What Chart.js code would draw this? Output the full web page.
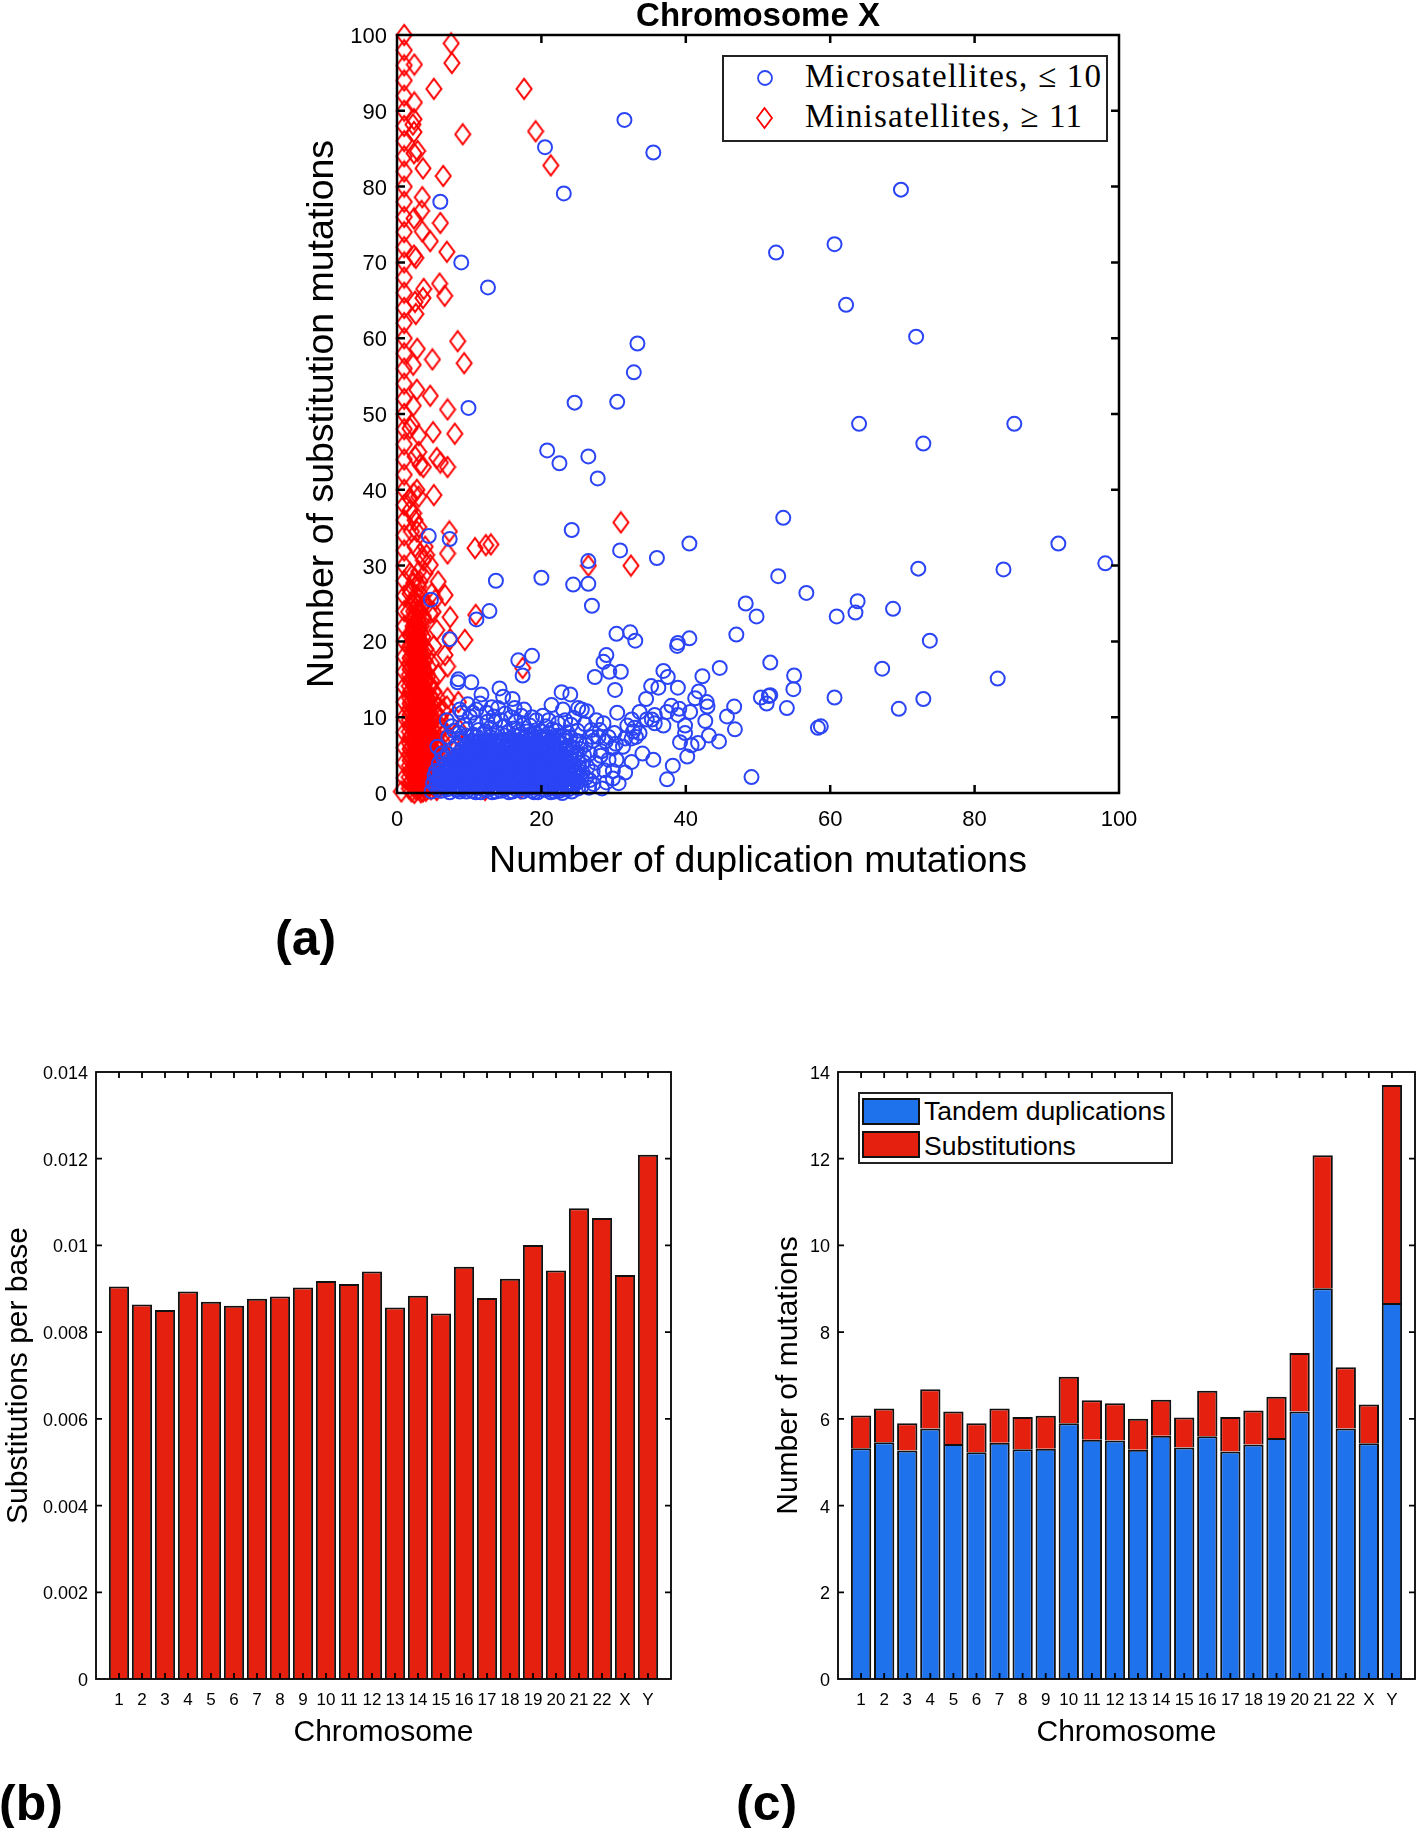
<!DOCTYPE html>
<html>
<head>
<meta charset="utf-8">
<title>Chromosome X mutations</title>
<script src="https://cdn.jsdelivr.net/npm/chart.js@4"></script>
<style>
  html, body { margin:0; padding:0; background:#fff; }
  body { position:relative; width:1416px; height:1828px; overflow:hidden; font-family:"Liberation Sans", Arial, sans-serif; }
  canvas { position:absolute; }
  .tag { position:absolute; font-weight:bold; font-size:50px; line-height:50px; color:#000; }
  .box { position:absolute; border:2px solid #222; background:#fff; box-sizing:border-box; }
  .row { position:absolute; white-space:nowrap; color:#000; }
  .serif { font-family:"Liberation Serif", "DejaVu Serif", serif; font-size:33px; line-height:36px; letter-spacing:1.2px; }
  .sw { position:absolute; border:2px solid #111; box-sizing:border-box; }
  svg { position:absolute; overflow:visible; }
</style>
</head>
<body>
<canvas id="scatter" width="1200" height="900" style="left:0px;top:0px"></canvas>
<canvas id="perBase" width="700" height="730" style="left:0px;top:1040px"></canvas>
<canvas id="stacked" width="680" height="730" style="left:760px;top:1040px"></canvas>

<div class="box" style="left:722px;top:55px;width:386px;height:87px"></div>
<svg style="left:757px;top:78px" width="16" height="16"><circle cx="8" cy="0" r="7" fill="none" stroke="#2b45f5" stroke-width="1.8"/></svg>
<svg style="left:757px;top:118px" width="16" height="20"><polygon points="0,0 7.5,-10 15,0 7.5,10" fill="none" stroke="#f00" stroke-width="1.8"/></svg>
<div class="row serif" style="left:805px;top:58px">Microsatellites, ≤ 10</div>
<div class="row serif" style="left:805px;top:98px">Minisatellites, ≥ 11</div>

<div class="box" style="left:858px;top:1092px;width:315px;height:72px"></div>
<div class="sw" style="left:862px;top:1098px;width:58px;height:27px;background:#1e72ec"></div>
<div class="sw" style="left:862px;top:1131px;width:58px;height:27px;background:#e6200f"></div>
<div class="row" style="left:924px;top:1095px;font-size:26.5px;line-height:32px">Tandem duplications</div>
<div class="row" style="left:924px;top:1130px;font-size:26.5px;line-height:32px">Substitutions</div>

<div class="tag" style="left:275px;top:913px">(a)</div>
<div class="tag" style="left:-1px;top:1778px">(b)</div>
<div class="tag" style="left:736px;top:1778px">(c)</div>

<script>
// panel a as [duplications, substitutions]
const microSparse = [
  [31.5,88.8],[35.5,84.5],[20.5,85.2],[23.1,79.1],[69.8,79.6],[6,78],[8.9,70],[12.6,66.7],[52.5,71.3],[60.6,72.4],
  [62.2,64.4],[71.9,60.2],[33.3,59.3],[32.8,55.5],[24.6,51.5],[30.5,51.6],[9.9,50.8],[64,48.7],[72.9,46.1],[85.5,48.7],
  [20.8,45.2],[22.5,43.5],[26.5,44.4],[27.8,41.5],[53.5,36.3],[24.2,34.7],[4.4,33.9],[7.3,33.5],[30.9,32],[40.5,32.9],
  [36,31],[26.5,30.6],[91.6,32.9],[98.1,30.3],[84,29.5],[72.2,29.6],[52.8,28.6],[20,28.4],[13.7,28],[24.4,27.5],
  [26.5,27.6],[27,24.7],[12.8,24],[11,22.9],[56.7,26.4],[48.3,25],[49.8,23.3],[60.9,23.3],[63.5,23.8],[63.8,25.3],
  [68.7,24.3],[73.8,20.1],[47,20.9],[30.4,21],[32.3,21.2],[33,20.1],[38.8,19.4],[38.9,19.8],[40.5,20.4],[7.3,20.3],
  [16.8,17.5],[18.7,18.1],[17.4,15.5],[51.7,17.2],[55,15.5],[54.9,13.7],[67.2,16.4],[83.2,15.1],[72.9,12.4],[69.5,11.1],
  [60.6,12.6],[54,11.2],[50.4,12.6],[51.5,12.8],[51.2,11.8],[51.7,12.9],[58.3,8.6],[58.7,8.8],[49.1,2.1],[4.7,25.5]
];
const microScattered = [
  [29,18.2],[28.6,17.3],[29.4,16],[31,16],[27.4,15.3],[30.2,13.6],[36.9,16.1],[37.5,15.3],[35.2,14.1],[36.2,13.9],
  [38.9,13.9],[42.3,15.4],[44.7,16.5],[34.5,12.4],[41.8,13.4],[41.3,12.5],[42.9,12],[43,11.4],[46.7,11.4],[45.7,10.1],
  [46.8,8.4],[42.7,9.5],[40.6,10.7],[38,11.5],[39.1,11.1],[37.4,10.7],[38.9,10.3],[39.9,8.9],[39.9,7.9],[43.2,7.6],
  [44.6,6.8],[41.7,6.6],[40.8,6.3],[39.2,6.7],[40.2,4.8],[38.2,3.6],[37.4,1.8],[35.5,4.4],[34,5.2],[33.6,10.7],
  [35.7,10.3],[35.3,9.7],[34.6,9.7],[36.9,8.9],[35.7,9.2],[30.5,10.6],[32.5,9.7],[31.9,8.9],[28.6,9.2],[28.1,8.3],
  [32.7,8.1],[33.6,7.9],[32.5,7.2],[31.6,7.2],[29.3,7.4],[30.3,6.5],[27.2,6.9],[28.3,5.5],[29.9,5.9],[30.4,4.4],
  [29.3,4.4],[32.5,4.1],[31.6,2.7],[28.7,3],[29.9,2.9],[30.7,1.3],[29,1.4],[29.9,1.9],[28.4,0.6],[26.7,5.2],
  [26.7,1.7],[32.9,8.6],[33.1,7.4],[31.3,6.1],[30.1,7.9],[28.9,6.8],
  [22.8,13.3],[24,13],[23,11],[25.1,11.2],[26.3,10.8],[25.6,11],[19.3,9.6],[21,9.6],[16.3,11.2],[16,12.4],
  [14.7,12.7],[14.2,13.8],[11.7,13],[11.5,11.8],[10.3,14.6],[8.5,15],[8.4,14.6],[13.4,10.1],[10.1,10.1],[12.5,9.4],
  [13.6,9.4],[16.4,9.4],[11.3,8.3],[9,10.6],[8.7,11],[10.5,10.6],[13.1,11.3],[22,8.2],[19.9,8.2],[25,8.2],
  [24.1,9],[27,7.4],[27.9,7.4],[21,7.9],[23,7.5],[25,4.5],[25.9,5],[25.4,5.8],[26.2,2],[25.6,0.9],
  [23.8,0.5],[22,0.5],[28.2,4.9],[24.6,3.1],[15,10.5],[17.5,9],[18,8.1],[12.2,8.1],[14.9,8.8],[9.4,9],
  [7.6,8.8],[6.9,9.6],[8.6,7.9],[9.6,7.6],[7.1,7.4],[6.2,5.2],[5.6,6.1],[24.8,6.9],[23.9,6.2],[26.1,6.4],[24.3,1.8],[25.2,3.4]
];
const microCluster = [
  [4.8,0.2],[6.1,0.3],[7.3,0.1],[8.2,0.4],[9.6,0.2],[10.4,0.3],[11.6,0.1],[12.3,0.4],[13.7,0.2],[14.4,0.3],[15.5,0.1],[16.6,0.4],[17.4,0.2],[18.7,0.3],[19.5,0.1],[20.6,0.4],[21.8,0.2],[22.5,0.3],[23.2,0.5],
  [5.4,0.8],[6.7,0.7],[7.8,0.9],[8.8,0.6],[10,0.8],[11,0.7],[12,0.9],[13,0.6],[14,0.8],[15,0.7],[16,0.9],[17,0.6],[18.2,0.8],[19.1,0.7],[20.1,0.9],[21.2,0.6],[22.1,0.8],[23.4,1],[24.4,0.9],
  [5,1.3],[6.3,1.2],[7.2,1.4],[8.4,1.1],[9.3,1.3],[10.6,1.2],[11.5,1.4],[12.6,1.1],[13.5,1.3],[14.6,1.2],[15.4,1.4],[16.5,1.1],[17.6,1.3],[18.6,1.2],[19.6,1.4],[20.7,1.1],[21.6,1.3],[22.8,1.2],
  [5.8,1.8],[6.9,1.7],[8,1.9],[9,1.6],[10,1.8],[11.1,1.7],[12.1,1.9],[13.1,1.6],[14.1,1.8],[15.1,1.7],[16.1,1.9],[17.1,1.6],[18.1,1.8],[19.2,1.7],[20.2,1.9],[21.2,1.6],[22.3,1.8],[23.6,1.9],[24.9,2.1],
  [5.2,2.3],[6.4,2.2],[7.5,2.4],[8.6,2.1],[9.6,2.3],[10.5,2.2],[11.6,2.4],[12.6,2.1],[13.6,2.3],[14.5,2.2],[15.6,2.4],[16.6,2.1],[17.5,2.3],[18.6,2.2],[19.7,2.4],[20.6,2.1],[21.7,2.3],[22.7,2.2],
  [5.9,2.8],[7,2.7],[8.1,2.9],[9.1,2.6],[10.1,2.8],[11,2.7],[12.2,2.9],[13.2,2.6],[14.1,2.8],[15.2,2.7],[16,2.9],[17.1,2.6],[18.2,2.8],[19.1,2.7],[20.3,2.9],[21.2,2.6],[22.2,2.8],[23.5,3],[24.5,3.6],
  [6.3,3.3],[7.4,3.2],[8.6,3.4],[9.5,3.1],[10.6,3.3],[11.6,3.2],[12.6,3.4],[13.6,3.1],[14.6,3.3],[15.5,3.2],[16.6,3.4],[17.6,3.1],[18.6,3.3],[19.6,3.2],[20.7,3.4],[21.7,3.1],[22.6,3.4],
  [6.8,3.8],[7.9,3.7],[9,3.9],[10,3.6],[11,3.8],[12,3.7],[13.1,3.9],[14.1,3.6],[15,3.8],[16,3.7],[17,3.9],[18.1,3.6],[19,3.8],[20.1,3.7],[21.1,3.9],[22.2,3.7],[23.4,4],
  [7.3,4.3],[8.4,4.2],[9.5,4.4],[10.5,4.1],[11.5,4.3],[12.6,4.2],[13.5,4.4],[14.6,4.1],[15.6,4.3],[16.5,4.2],[17.6,4.4],[18.5,4.1],[19.6,4.3],[20.5,4.2],[21.6,4.4],[22.8,4.6],
  [8,4.8],[9,4.7],[10,4.9],[11.1,4.6],[12.1,4.8],[13,4.7],[14.1,4.9],[15.1,4.6],[16,4.8],[17.1,4.7],[18,4.9],[19.1,4.6],[20.1,4.8],[21.1,5],[22.4,5.2],
  [8.6,5.3],[9.6,5.2],[10.6,5.4],[11.5,5.1],[12.6,5.3],[13.6,5.2],[14.6,5.4],[15.5,5.1],[16.6,5.3],[17.5,5.2],[18.6,5.4],[19.6,5.1],[20.6,5.5],[21.6,5.9],
  [9.1,5.8],[10.1,5.7],[11.2,5.9],[12.1,5.6],[13.1,5.8],[14,5.7],[15.1,5.9],[16.1,5.6],[17,5.8],[18.1,5.7],[19.1,5.9],[20.1,6.1],[22.7,6.6],
  [9.7,6.3],[10.7,6.2],[11.7,6.4],[12.6,6.1],[13.6,6.3],[14.6,6.2],[15.6,6.4],[16.6,6.1],[17.5,6.3],[18.6,6.2],[19.5,6.6],[21.2,6.9],
  [10.4,6.9],[11.4,6.7],[12.4,7],[13.3,6.7],[14.3,6.9],[15.3,6.8],[16.3,7],[17.2,6.7],[18.2,7],[19.1,7.3],
  [11,7.5],[12.9,7.4],[14.9,7.6],[16.8,7.5],[18.6,7.8],
  [5.4,2.9],[5.8,3.9],[6.4,4.6],[7,5.2],[7.7,5.8],[8.3,6.4],[9,6.9]
];
// second read of the solid blue area, it needs far more rings to close up
const microClusterFill = [
  [5.7,0.5],[7,0.5],[8.7,0.2],[9.1,0.5],[10.9,0.1],[11.9,0.5],[13.2,0.1],[14.9,0.5],[16,0.2],[17.9,0.5],[19,0.1],[20.1,0.5],[21.3,0.1],[22.9,0],[24.2,0.2],
  [5.9,1],[7.4,1],[8.3,0.8],[9.5,1],[10.4,0.9],[11.4,1],[12.5,0.8],[13.5,0.9],[14.5,1],[15.5,0.8],[16.5,0.8],[17.5,1],[18.7,0.9],[19.6,1],[20.6,0.8],[21.7,1],[22.7,0.7],[25,1.4],
  [5.5,1.5],[6.6,1.5],[7.7,1.6],[8.8,1.4],[9.8,1.5],[10.9,1.4],[11.9,1.5],[13,1.3],[14,1.4],[15,1.5],[16,1.3],[17,1.4],[18.1,1.5],[19.1,1.3],[20.2,1.4],[21.2,1.2],[22.3,1.5],[23.6,1.4],
  [6,2.1],[7.2,2],[8.3,2.2],[9.3,2],[10.3,2.1],[11.3,2],[12.3,2.2],[13.3,2],[14.3,2.1],[15.3,2],[16.3,2.2],[17.3,1.9],[18.3,2.1],[19.4,2],[20.4,2.2],[21.5,1.9],[22.6,2.1],[24,2.6],
  [6.1,2.5],[7.7,2.5],[8.9,2.7],[9.9,2.5],[11.4,2.6],[12.5,2.6],[13.7,2.6],[14.8,2.5],[15.8,2.6],[16.9,2.4],[17.9,2.6],[18.9,2.5],[20,2.6],[21.6,2.7],[22.9,2.6],
  [6.8,3.1],[8,3.1],[9,3.2],[10.1,3.1],[11.1,3.2],[12.1,3.1],[13.1,3.2],[14.1,3.1],[15.1,3.2],[16.1,3.1],[17.1,3.2],[18.1,3.1],[19.1,3.2],[20.2,3.1],[21.2,3.3],[23.1,3.5],
  [7.3,3.6],[8.4,3.7],[9.5,3.6],[10.5,3.7],[11.5,3.6],[12.5,3.7],[13.6,3.6],[14.6,3.7],[15.5,3.6],[16.5,3.7],[17.6,3.6],[18.6,3.7],[19.6,3.6],[20.6,3.7],[21.7,3.6],
  [7.8,4.1],[8.9,4.2],[10,4.1],[11,4.2],[12.1,4.1],[13.1,4.2],[14.1,4.3],[15.1,4.1],[16.1,4.2],[17.1,4.1],[18,4.3],[19.1,4.2],[20,4.1],[21.1,4.3],[22.2,4.3],
  [8.4,4.6],[9.5,4.7],[10.5,4.6],[11.6,4.7],[12.6,4.6],[13.6,4.7],[14.6,4.6],[15.6,4.7],[16.6,4.6],[17.6,4.7],[18.6,4.6],[19.6,4.7],[20.6,4.7],
  [9,5.1],[10.1,5.2],[11,5.1],[12.1,5.2],[13.1,5.1],[14.1,5.2],[15.1,5.1],[16.1,5.2],[17.1,5.1],[18.1,5.3],[19.1,5.2],[20.1,5.3],
  [9.6,5.7],[10.6,5.7],[11.7,5.6],[12.6,5.7],[13.6,5.7],[14.6,5.6],[15.6,5.7],[16.6,5.7],[17.6,5.6],[18.6,5.8],[19.6,5.7],
  [10.2,6.2],[11.2,6.2],[12.1,6.3],[13.1,6.2],[14.1,6.3],[15.1,6.2],[16.1,6.3],[17.1,6.2],[18.1,6.4],[19,6.4],
  [10.9,6.7],[11.9,6.8],[12.8,6.7],[13.8,6.8],[14.8,6.7],[15.8,6.8],[16.8,6.7],[17.7,6.8]
];
// ragged edge of the blue cloud, above and right of the solid part
const microFringe = [
  [7.9,8.2],[8.9,7.2],[9.7,8.4],[10.6,7.7],[10.9,9.2],[12,7.9],[12.9,8.6],[13.9,7.9],[14.4,9.6],[15.4,8],[16.2,8.5],[16.9,8.1],[17.7,7.5],[18.4,8.9],[19.2,7.9],[20.2,7],[20.6,8.8],
  [21.7,7.2],[22.4,7.6],[23.4,6.9],[22,6.1],[23.1,5.5],[24.1,5.2],[23.5,4.5],[24.9,5.3],[25.2,6.8],[25.8,4.1],[26.4,3.4],[25.7,2.7],[27.1,2.8],[27.5,4],[24.9,2.6],[26.6,0.7],[27.2,1.2],
  [17.2,10.2],[18.7,10],[20.2,10.2],[22.3,9.2],[23.3,9.6],[26,9.1],[26.9,8.3],[27.6,9.6],[15.8,10],[12.4,10.6],[11,11],[9.8,11.7],[14,11.2],[17.6,11],[21.4,11.6],[24.5,9.9]
];
// right shoulder of the solid area, out to about 24 duplications
const microShoulder = [
  [19.4,6.9],[20.4,6.4],[20.9,5.9],[21.4,6.4],[21.9,5.5],[22.6,5.9],[23.4,5.9],[24.4,6],[19.9,5.6],[20.9,5.3],[21.8,4.9],[22.5,4.2],[23.2,4.9],[24.1,4.4],[24.6,4.9],
  [21.9,4],[22.9,3.9],[23.7,3.4],[24.4,3],[25.2,4],[21.9,3.3],[22.9,3],[23.9,2.4],[24.6,2.3],[25.3,2.4],[22.1,2.6],[23.1,2.2],[23,1.7],[24.2,1.3],[24.7,1.6],
  [23.7,0.8],[25.1,0.6],[21.6,6.7],[22.2,6.9],[23.1,7],[24,7.4],[18.9,7],[19.9,7.4],[20.9,7.4],[23.6,8],[21.5,8.4],[18.1,7.6]
];

const miniColumn = [
  [1,100],[1,98],[1,96],[1,94],[1,92],[1,90],[1,88],[1,86],[1,84],[1,82],[1,80],[1,78],[1,76],[1,74],[1,72],[1,70],[1,68],
  [1,66],[1,64],[1,62],[1,60],[1,58],[1,56],[1,54],[1,52],[1,50],[1,48],[1,46],[1,44],[1,42],[1,40],[1,38],[1,36],[1,34],
  [1,32],[1,30],[1,28],[1,26],[1,24],[1,22],[1,20],[1,18],[1,16],[1,14],[1,12],[1,10],[1,8],[1,6],[1,4],[1,2],[0.6,0.2]
];
const miniSparse = [
  [7.5,98.9],[7.6,96.3],[2.4,96.1],[5.1,92.9],[17.6,92.9],[2.4,91.1],[2.35,88.9],[2.2,88.2],[2.35,87.2],[9.1,86.9],
  [19.2,87.3],[21.3,82.8],[2.85,84.7],[2.35,84.4],[3.6,82.4],[6.4,81.4],[3.5,78.6],[3.4,76.8],[2.35,75.8],[6,75.2],
  [3.5,74.1],[4.6,72.8],[6.9,71.4],[2.35,70.9],[2.6,70.6],[5.9,67.2],[3.7,66.5],[6.6,65.6],[3.6,65.3],[2.5,64.8],
  [2.6,63.2],[8.4,59.6],[2.8,58.6],[4.9,57.2],[9.3,56.7],[2.25,56.5],[2.75,53.2],[4.6,52.4],[2.25,51.1],[7,50.6],
  [2.05,48.6],[1.8,48.1],[3,47.2],[5,47.6],[8,47.4],[3,45],[2.5,44.4],[3.2,43.3],[3.65,43],[5.5,44.2],[6,43.6],[7,43],
  [2.75,40],[2.3,39.5],[3,39.1],[1.8,38.9],[5.1,39.3],[2.3,36.9],[1.8,37.3],[2.5,36],[3,35.1],[2,34.5],[2.75,34.5],
  [7.25,34.5],[3.9,32.5],[2.5,32.5],[3.2,31.6],[10.8,32.3],[12.3,32.7],[13,32.8],[7,31.6],[4.1,31.4],[4.6,30.1],[3.65,30.7],
  [26.5,30],[32.4,30],[31,35.7],[10.9,23.5],[17.4,16.5],
  [3,29.2],[1.8,29],[3.9,29],[2.5,28.3],[3.2,27.9],[2.3,27.7],[3,27.2],[1.8,26.8],[5.7,27.9],[6.65,26.1],[4.8,26.3],[1.8,26.3],
  [2.3,25.5],[5.3,25.5],[4.1,24.8],[1.6,23.9],[4.6,23.7],[5,23.9],[3.65,23.3],[7.35,23.2],[2.5,22.6],[5.5,21.5],[3.4,22],
  [7.35,20.3],[9.4,20.2],[5.1,19.4],[6.65,18.2],[4.35,18.4],[4.8,17.1],[7,16.7],[5.7,15.6],[4.1,15.8],
  [7,12.5],[8.5,12],[7.6,9.6],[8.6,8.4],[6.6,7.9],[9.1,6.2],[15,5.8],[7.6,4.1],[8.8,3.6],[10.3,1.8],[12.2,0.4],[17.1,0.6],
  [6,0.8],[6.6,2],[7.35,3.3],[5.5,0.4],[6,6.1],[7,7],[6,8.8],[4.6,10],[6.4,10.9],[6.9,11.4],[5.1,13.4],[5.6,12.6]
];
const miniCluster = [
  [2,0.2],[2.7,0.4],[3.3,0.1],[4,0.3],[4.7,0.5],[2.3,0.9],[3,1],[3.7,0.8],[4.4,1.1],[5,1.2],
  [2,1.6],[2.6,1.8],[3.3,1.5],[4,1.7],[4.8,1.9],[2.3,2.4],[3,2.5],[3.7,2.3],[4.4,2.6],[5.1,2.5],
  [2,3.1],[2.7,3.3],[3.3,3],[4,3.2],[4.7,3.4],[2.3,3.9],[3,4],[3.6,3.8],[4.3,4.1],[5,4],
  [2,4.6],[2.6,4.8],[3.3,4.5],[4,4.7],[4.7,4.9],[2.3,5.4],[3,5.5],[3.7,5.3],[4.4,5.6],[5,5.5],
  [2,6.1],[2.7,6.3],[3.3,6],[4,6.2],[4.6,6.4],[2.3,6.9],[3,7],[3.6,6.8],[4.3,7.1],[5,7.2],
  [2,7.6],[2.6,7.8],[3.3,7.5],[4,7.7],[4.5,7.9],[2.3,8.4],[3,8.5],[3.7,8.3],[4.3,8.6],
  [2,9.1],[2.7,9.3],[3.3,9],[3.9,9.2],[4.5,9.4],[2.3,9.9],[3,10],[3.6,9.8],[4.2,10.1],
  [2,10.6],[2.6,10.8],[3.3,10.5],[3.9,10.7],[4.4,10.9],[2.3,11.4],[3,11.5],[3.6,11.3],[4.1,11.6],
  [2,12.1],[2.7,12.3],[3.2,12],[3.8,12.2],[4.3,12.4],[2.3,12.9],[2.9,13],[3.5,12.8],[4.1,13.1],
  [2,13.6],[2.6,13.8],[3.2,13.5],[3.7,13.7],[2.3,14.4],[2.9,14.5],[3.4,14.3],[4,14.6],
  [2,15.1],[2.6,15.3],[3.1,15],[3.6,15.2],[2.3,15.9],[2.8,16],[3.3,15.8],[3.8,16.1],
  [2,16.6],[2.6,16.8],[3.1,16.5],[3.6,16.7],[2.3,17.4],[2.8,17.5],[3.2,17.3],[2,18.1],
  [2.5,18.3],[3,18],[3.5,18.2],[2.3,18.9],[2.8,19],[3.2,18.8],[2,19.6],[2.5,19.8],[3,19.5],[3.4,19.7],
  [2.3,20.4],[2.7,20.5],[3.1,20.3],[2,21.1],[2.5,21.3],[2.9,21],[3.3,21.2],[2.2,22],[2.7,22.1],[3.1,21.9],
  [2,23],[2.5,23.2],[2.9,22.9],[2.3,24],[2.8,24.1],[3.2,23.9],[2,25],[2.5,25.2],[3,24.9],[2.7,26.1],[3.4,26]
];
// second read of the solid red wedge
const miniClusterFill = [
  [1.7,0.6],[2.4,0],[3.1,0.5],[3.6,0.2],[4.3,0.6],[1.8,1.3],[2.6,1.2],[3.4,1.1],[4.1,1.2],[4.7,1.4],
  [1.7,2.1],[2.4,2],[3.1,1.9],[3.9,2.2],[4.6,2.1],[1.8,2.8],[2.6,2.8],[3.4,2.7],[4.1,2.9],[4.8,2.9],
  [1.7,3.6],[2.4,3.5],[3.1,3.6],[3.9,3.6],[4.5,3.7],[1.8,4.3],[2.6,4.3],[3.4,4.2],[4.1,4.4],[4.8,4.4],
  [1.7,5.1],[2.4,5],[3.1,5.1],[3.9,5.1],[4.5,5.2],[1.8,5.8],[2.6,5.8],[3.4,5.7],[4.1,5.9],[4.7,5.9],
  [1.7,6.6],[2.4,6.5],[3.1,6.6],[3.9,6.6],[4.5,6.7],[1.8,7.3],[2.6,7.3],[3.4,7.2],[4.1,7.4],[4.6,7.5],
  [1.7,8.1],[2.4,8],[3.1,8.1],[3.9,8.1],[4.4,8.2],[1.8,8.8],[2.6,8.8],[3.4,8.7],[4,8.9],[4.5,9],
  [1.7,9.6],[2.4,9.5],[3.1,9.6],[3.8,9.6],[4.3,9.7],[1.8,10.3],[2.6,10.3],[3.4,10.2],[4,10.4],
  [1.7,11.1],[2.4,11],[3.1,11.1],[3.7,11.1],[4.2,11.2],[1.8,11.8],[2.6,11.8],[3.4,11.7],[3.9,11.9],
  [1.7,12.6],[2.4,12.5],[3.1,12.6],[3.6,12.6],[4.1,12.7],[1.8,13.3],[2.6,13.3],[3.4,13.2],[3.9,13.4],
  [1.7,14.1],[2.4,14],[3.1,14.1],[3.6,14],[1.8,14.8],[2.6,14.8],[3.3,14.7],[3.8,14.9],
  [1.7,15.6],[2.4,15.5],[3.1,15.6],[3.5,15.6],[1.8,16.3],[2.6,16.2],[3.2,16.2],[3.7,16.3],
  [1.7,17.1],[2.4,17],[3,17],[3.5,17.1],[1.8,17.8],[2.6,17.8],[3.2,17.7],[2.2,18.5],[2.7,18.6],[3.3,18.5],
  [1.7,19.3],[2.3,19.2],[2.9,19.3],[2.1,20],[2.6,20],[3.1,19.9],[1.8,20.8],[2.4,20.7],[2.9,20.7],[2.2,21.6]
];
// red marks spilling to the right of the wedge near the bottom
const miniEdge = [
  [5.4,1.6],[5.7,2.8],[5.5,3.8],[5.9,4.7],[5.3,5],[5.6,6.9],[5.2,6.3],[5.1,8],[5.4,9.1],[4.9,9.6],
  [5.3,10.4],[4.8,11.6],[5,12.2],[4.6,12.9],[4.5,14.1],[4.8,14.8],[4.3,15.4],[4.4,16.6],[3.9,17.4],[4,19],[3.6,20.6],[3.7,23],[3.5,24.7],
  [6.2,1.2],[6.4,3.4],[6.6,5.2],[6.3,6.8],[5.9,8],[6,9.8],[5.7,11.2]
];

// panels b and c
const chromosomes = ['1','2','3','4','5','6','7','8','9','10','11','12','13','14','15','16','17','18','19','20','21','22','X','Y'];
const substitutionsPerBase = [0.00905,0.00864,0.00851,0.00894,0.0087,0.00861,0.00877,0.00882,0.00903,0.00918,0.00911,0.0094,0.00857,0.00884,0.00843,0.00951,0.00879,0.00923,0.01001,0.00942,0.01086,0.01063,0.00932,0.01209];
const tandemCounts = [5.32,5.46,5.27,5.78,5.42,5.23,5.45,5.30,5.31,5.90,5.52,5.50,5.29,5.61,5.34,5.60,5.25,5.41,5.56,6.17,9.01,5.78,5.44,8.67];
const substitutionCounts = [0.76,0.78,0.63,0.90,0.75,0.67,0.79,0.74,0.76,1.07,0.91,0.86,0.71,0.83,0.69,1.05,0.79,0.78,0.95,1.35,3.07,1.41,0.89,5.03];

const pad = (arr) => [null, ...arr, null];
const toPoints = (rows) => rows.map(r => ({ x: r[0], y: r[1] }));
const cleanTick = (v) => String(+v.toFixed(3));

// thin tall diamond, chart.js only has the square one
function diamondMark() {
  const c = document.createElement('canvas');
  c.width = 18; c.height = 24;
  const g = c.getContext('2d');
  g.strokeStyle = '#f00';
  g.lineWidth = 2;
  g.beginPath();
  g.moveTo(1.5, 12); g.lineTo(9, 2); g.lineTo(16.5, 12); g.lineTo(9, 22); g.closePath();
  g.stroke();
  return c;
}

// closed box with inward ticks on all four sides
const boxTicks = {
  id: 'boxTicks',
  afterDatasetsDraw(chart, args, opts) {
    const { ctx, chartArea: a, scales: { x, y } } = chart;
    const len = opts.length;
    ctx.save();
    ctx.strokeStyle = '#000';
    ctx.lineWidth = opts.width;
    ctx.strokeRect(a.left, a.top, a.right - a.left, a.bottom - a.top);
    ctx.beginPath();
    x.ticks.forEach((t, i) => {
      if (t.label === '') return;
      const px = x.getPixelForTick(i);
      if (Math.abs(px - a.left) < 1 || Math.abs(px - a.right) < 1) return;
      ctx.moveTo(px, a.bottom); ctx.lineTo(px, a.bottom - len);
      ctx.moveTo(px, a.top); ctx.lineTo(px, a.top + len);
    });
    y.ticks.forEach((t, i) => {
      const py = y.getPixelForTick(i);
      if (Math.abs(py - a.top) < 1 || Math.abs(py - a.bottom) < 1) return;
      ctx.moveTo(a.left, py); ctx.lineTo(a.left + len, py);
      ctx.moveTo(a.right, py); ctx.lineTo(a.right - len, py);
    });
    ctx.stroke();
    ctx.restore();
  }
};

Chart.defaults.font.family = '"Liberation Sans", Arial, sans-serif';
Chart.defaults.color = '#000';
Chart.defaults.animation = false;
Chart.defaults.responsive = false;
Chart.defaults.plugins.legend.display = false;
Chart.defaults.plugins.tooltip.enabled = false;

function axis(fit, tickFont, tickPad, titleText, titleFont, titlePad) {
  return {
    grid: { display: false, drawTicks: false },
    border: { display: false },
    ticks: { font: { size: tickFont }, padding: tickPad, autoSkip: false, maxRotation: 0 },
    title: { display: true, text: titleText, font: { size: titleFont }, padding: { top: titlePad, bottom: titlePad } },
    afterFit: fit
  };
}

const scatterX = axis((s) => { s.height = 107; }, 22, 14, 'Number of duplication mutations', 37.5, 16);
scatterX.min = 0; scatterX.max = 100; scatterX.ticks.stepSize = 20;
const scatterY = axis((s) => { s.width = 397; }, 22, 10, 'Number of substitution mutations', 37.5, 300);
scatterY.min = 0; scatterY.max = 100; scatterY.ticks.stepSize = 10; scatterY.ticks.labelOffset = 2;

new Chart(document.getElementById('scatter'), {
  type: 'scatter',
  data: {
    datasets: [
      {
        label: 'Microsatellites, ≤ 10',
        data: toPoints([...microCluster, ...microClusterFill, ...microShoulder, ...microFringe, ...microScattered, ...microSparse]),
        pointStyle: 'circle', pointRadius: 7, borderColor: '#2b45f5', borderWidth: 2,
        backgroundColor: 'transparent', clip: false
      },
      {
        label: 'Minisatellites, ≥ 11',
        data: toPoints([...miniColumn, ...miniCluster, ...miniClusterFill, ...miniEdge, ...miniSparse]),
        pointStyle: diamondMark(), pointRadius: 10, borderColor: '#f00',
        backgroundColor: 'transparent', clip: false
      }
    ]
  },
  options: {
    layout: { autoPadding: false, padding: { right: 81 } },
    plugins: {
      title: { display: true, fullSize: false, text: 'Chromosome X', font: { size: 33, weight: 'bold', lineHeight: 1 }, padding: { top: 0, bottom: 2 }, color: '#000' },
      boxTicks: { length: 8, width: 2.5 }
    },
    scales: { x: scatterX, y: scatterY }
  },
  plugins: [boxTicks]
});

function barOptions(yMax, step, yTitle, yTitleSize, yWidth, yTitlePad, rightPad, tickFmt) {
  const x = axis((s) => { s.height = 91; }, 17, 11, 'Chromosome', 30, 19);
  x.stacked = true;
  x.offset = false;
  const y = axis((s) => { s.width = yWidth; }, 18, 8, yTitle, yTitleSize, yTitlePad);
  y.stacked = true;
  y.min = 0; y.max = yMax;
  y.ticks.stepSize = step;
  y.ticks.labelOffset = 2;
  if (tickFmt) y.ticks.callback = tickFmt;
  return {
    layout: { autoPadding: false, padding: { top: 32, right: rightPad } },
    plugins: { boxTicks: { length: 6, width: 1.8 } },
    scales: { x, y }
  };
}

new Chart(document.getElementById('perBase'), {
  type: 'bar',
  data: {
    labels: pad(chromosomes).map(c => c === null ? '' : c),
    datasets: [{
      label: 'Substitutions per base', data: pad(substitutionsPerBase),
      backgroundColor: '#e6200f', borderColor: '#111', borderWidth: 2, barPercentage: 0.88, categoryPercentage: 1
    }]
  },
  options: barOptions(0.014, 0.002, 'Substitutions per base', 30, 96, 1, 29, cleanTick),
  plugins: [boxTicks]
});

new Chart(document.getElementById('stacked'), {
  type: 'bar',
  data: {
    labels: pad(chromosomes).map(c => c === null ? '' : c),
    datasets: [
      { label: 'Tandem duplications', data: pad(tandemCounts), backgroundColor: '#1e72ec', borderColor: '#111', borderWidth: 2, barPercentage: 0.88, categoryPercentage: 1 },
      { label: 'Substitutions', data: pad(substitutionCounts), backgroundColor: '#e6200f', borderColor: '#111', borderWidth: 2, barPercentage: 0.88, categoryPercentage: 1 }
    ]
  },
  options: barOptions(14, 2, 'Number of mutations', 30, 78, 11, 25),
  plugins: [boxTicks]
});
</script>
</body>
</html>
